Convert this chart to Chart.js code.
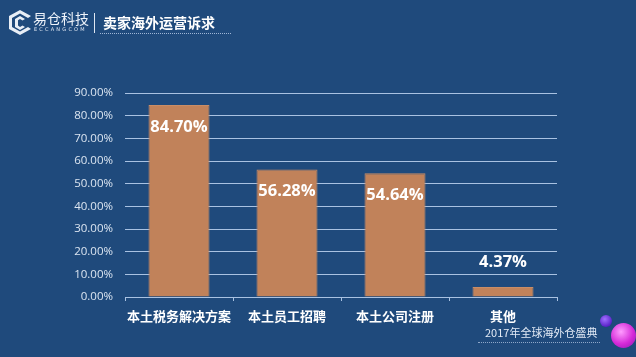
<!DOCTYPE html>
<html><head><meta charset="utf-8">
<script src="https://cdn.jsdelivr.net/npm/chart.js@4"></script>
<style>
html,body{margin:0;padding:0;background:#1f4a7c;}
#wrap{position:relative;width:636px;height:357px;overflow:hidden;background:#1f4a7c;font-family:"Noto Sans CJK SC","Noto Sans",sans-serif;}
canvas{position:absolute;left:0;top:0;}
.t{position:absolute;white-space:nowrap;color:#fff;line-height:1;}
</style></head><body>
<div id="wrap">
<canvas id="c" width="636" height="357"></canvas>
<svg style="position:absolute;left:6px;top:8px" width="28" height="28" viewBox="0 0 28 28">
 <path d="M14 2 L25 8 L22 10 L14 5.5 L6 10 L6 19 L14 23.5 L22 19 L25 21 L14 27 L3 21 L3 8 Z" fill="#e8eef6"/>
 <path d="M9 11 L14 8 L19 11 L16.5 12.5 L14 11 L12 12.3 L12 17.5 L14 19 L16.5 17.5 L19 19 L14 22 L9 19 Z" fill="#e8eef6"/>
</svg>
<div class="t" style="left:33px;top:11px;font-size:14px;color:#eef3fa;">易仓科技</div>
<div class="t" style="left:34px;top:27px;font-size:5px;color:#dfe7f2;letter-spacing:2.2px;font-family:'DejaVu Sans'">ECCANGCOM</div>
<div style="position:absolute;left:94px;top:13px;width:1px;height:20px;background:#dfe7f2"></div>
<div class="t" style="left:103px;top:15px;font-size:14px;font-weight:bold;">卖家海外运营诉求</div>
<div style="position:absolute;left:100px;top:33px;width:131px;border-top:1px dotted #9fb6d6"></div>
<div class="t" style="left:485px;top:327px;font-size:11px;color:#e3ebf6;">2017年全球海外仓盛典</div>
<div style="position:absolute;left:478px;top:342px;width:122px;border-top:1px dotted #8ea7c9"></div>
<div style="position:absolute;left:600px;top:315px;width:12px;height:12px;border-radius:50%;background:radial-gradient(circle at 40% 35%,#a070ff,#5a22c8 70%,#3a1590)"></div>
<div style="position:absolute;left:611px;top:323px;width:25px;height:25px;border-radius:50%;background:radial-gradient(circle at 40% 35%,#ff9cff,#d52ad8 55%,#8a18b0)"></div>
</div>
<script>
const categories = ["本土税务解决方案","本土员工招聘","本土公司注册","其他"];
const values = [84.70, 56.28, 54.64, 4.37];
const yTicks = [0,10,20,30,40,50,60,70,80,90];

const labelPlugin = {
  id:'barLabels',
  afterDatasetsDraw(chart){
    const ctx = chart.ctx;
    const meta = chart.getDatasetMeta(0);
    ctx.save();
    ctx.font = 'bold 16.5px "Open Sans","Noto Sans",sans-serif';
    ctx.fillStyle = '#ffffff';
    ctx.textAlign = 'center';
    ctx.textBaseline = 'middle';
    meta.data.forEach((bar,i)=>{
      const h = bar.base - bar.y;
      const y = h > 40 ? bar.y + 22 : bar.y - 25;
      ctx.fillText(values[i].toFixed(2)+'%', bar.x, y);
    });
    ctx.restore();
  }
};

new Chart(document.getElementById('c'),{
  type:'bar',
  data:{labels:categories,datasets:[{data:values,backgroundColor:'#c1825a',borderColor:'#c98d66',borderWidth:1,categoryPercentage:1,barPercentage:0.565}]},
  options:{
    responsive:false,animation:false,
    layout:{padding:{left:0,right:79,top:93,bottom:0}},
    plugins:{legend:{display:false},tooltip:{enabled:false}},
    scales:{
      y:{min:0,max:90,
        afterFit(s){s.width=125;},
        afterBuildTicks(s){s.ticks=yTicks.map(v=>({value:v}));},
        ticks:{color:'#dbe5f1',font:{size:11.5,family:'"Open Sans","Noto Sans",sans-serif'},padding:12,callback:v=>v.toFixed(2)+'%'},
        grid:{color:'#a9c2e2',lineWidth:1,drawTicks:false},
        border:{display:false}
      },
      x:{
        afterFit(s){s.height=60;},
        ticks:{color:'#ffffff',font:{size:13,weight:'bold',family:'"Noto Sans CJK SC",sans-serif'},padding:7,maxRotation:0,minRotation:0,autoSkip:false},
        grid:{display:true,drawOnChartArea:false,drawTicks:true,tickLength:4,color:'#a9c2e2'},
        border:{display:true,color:'#a9c2e2'}
      }
    }
  },
  plugins:[labelPlugin]
});
</script>
</body></html>
